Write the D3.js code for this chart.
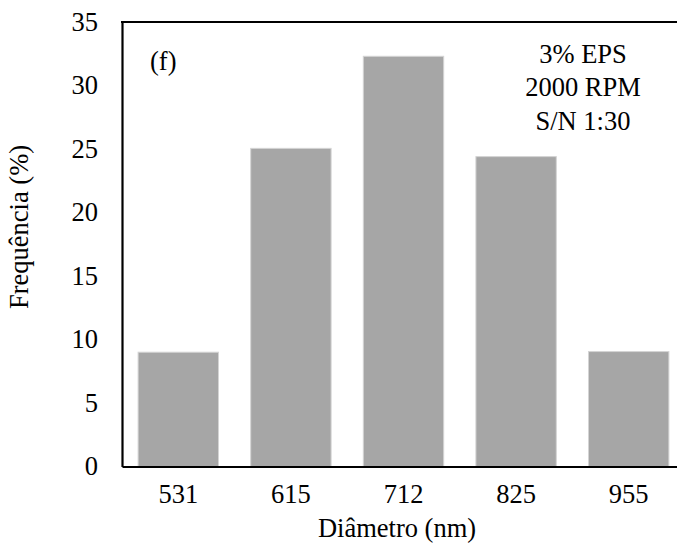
<!DOCTYPE html>
<html>
<head>
<meta charset="utf-8">
<script src="https://cdn.jsdelivr.net/npm/d3@7"></script>
<style>
  html, body { margin: 0; padding: 0; background: #fff; }
  svg { display: block; }
  text { font-family: "Liberation Serif", "Times New Roman", serif; fill: #000; }
</style>
</head>
<body>
<svg id="chart" width="677" height="544"></svg>
<script>
// Particle size distribution
const categories = ["531", "615", "712", "825", "955"];
const values = [9.0, 25.05, 32.3, 24.4, 9.05];
const yTicks = [0, 5, 10, 15, 20, 25, 30, 35];
const panelLabel = "(f)";
const infoLines = ["3% EPS", "2000 RPM", "S/N 1:30"];

const svg = d3.select("#chart");
const margin = { left: 122, top: 22, bottom: 466.5 };
const plotRight = 685;
const fontSize = 26.5;

const x = d3.scaleBand()
  .domain(categories)
  .range([margin.left, plotRight])
  .paddingInner(0.286)
  .paddingOuter(0.143);

const y = d3.scaleLinear()
  .domain([0, 35])
  .range([margin.bottom, margin.top]);

// bars
svg.append("g")
  .selectAll("rect")
  .data(values)
  .join("rect")
  .attr("x", (d, i) => x(categories[i]))
  .attr("y", d => y(d))
  .attr("width", x.bandwidth())
  .attr("height", d => y(0) - y(d))
  .attr("fill", "#a6a6a6")
  .attr("stroke", "#d4d4d4")
  .attr("stroke-width", 1);

// y axis
const yAxis = svg.append("g")
  .attr("transform", `translate(${margin.left},0)`)
  .call(d3.axisLeft(y).tickValues(yTicks).tickSize(0).tickPadding(24));
yAxis.select(".domain").attr("stroke", "#000").attr("stroke-width", 2.2);
yAxis.selectAll("text")
  .style("font-size", fontSize + "px")
  .style("font-family", "Liberation Serif, serif");

// x axis
const xAxis = svg.append("g")
  .attr("transform", `translate(0,${margin.bottom})`)
  .call(d3.axisBottom(x).tickSize(0).tickPadding(18));
xAxis.select(".domain").attr("stroke", "#000").attr("stroke-width", 2.2);
xAxis.selectAll("text")
  .style("font-size", fontSize + "px")
  .style("font-family", "Liberation Serif, serif");

// top border of the plot area
svg.append("line")
  .attr("x1", margin.left - 1).attr("x2", 677)
  .attr("y1", margin.top).attr("y2", margin.top)
  .attr("stroke", "#000").attr("stroke-width", 2.2);

// axis titles
svg.append("text")
  .attr("transform", "translate(28,227) rotate(-90)")
  .attr("text-anchor", "middle")
  .style("font-size", fontSize + "px")
  .text("Frequência (%)");

svg.append("text")
  .attr("x", 397).attr("y", 537)
  .attr("text-anchor", "middle")
  .style("font-size", fontSize + "px")
  .text("Diâmetro (nm)");

// annotations
svg.append("text")
  .attr("x", 150).attr("y", 70)
  .style("font-size", fontSize + "px")
  .text(panelLabel);

svg.append("g")
  .selectAll("text")
  .data(infoLines)
  .join("text")
  .attr("x", 583)
  .attr("y", (d, i) => 62.5 + i * 33.5)
  .attr("text-anchor", "middle")
  .style("font-size", fontSize + "px")
  .text(d => d);
</script>
</body>
</html>
